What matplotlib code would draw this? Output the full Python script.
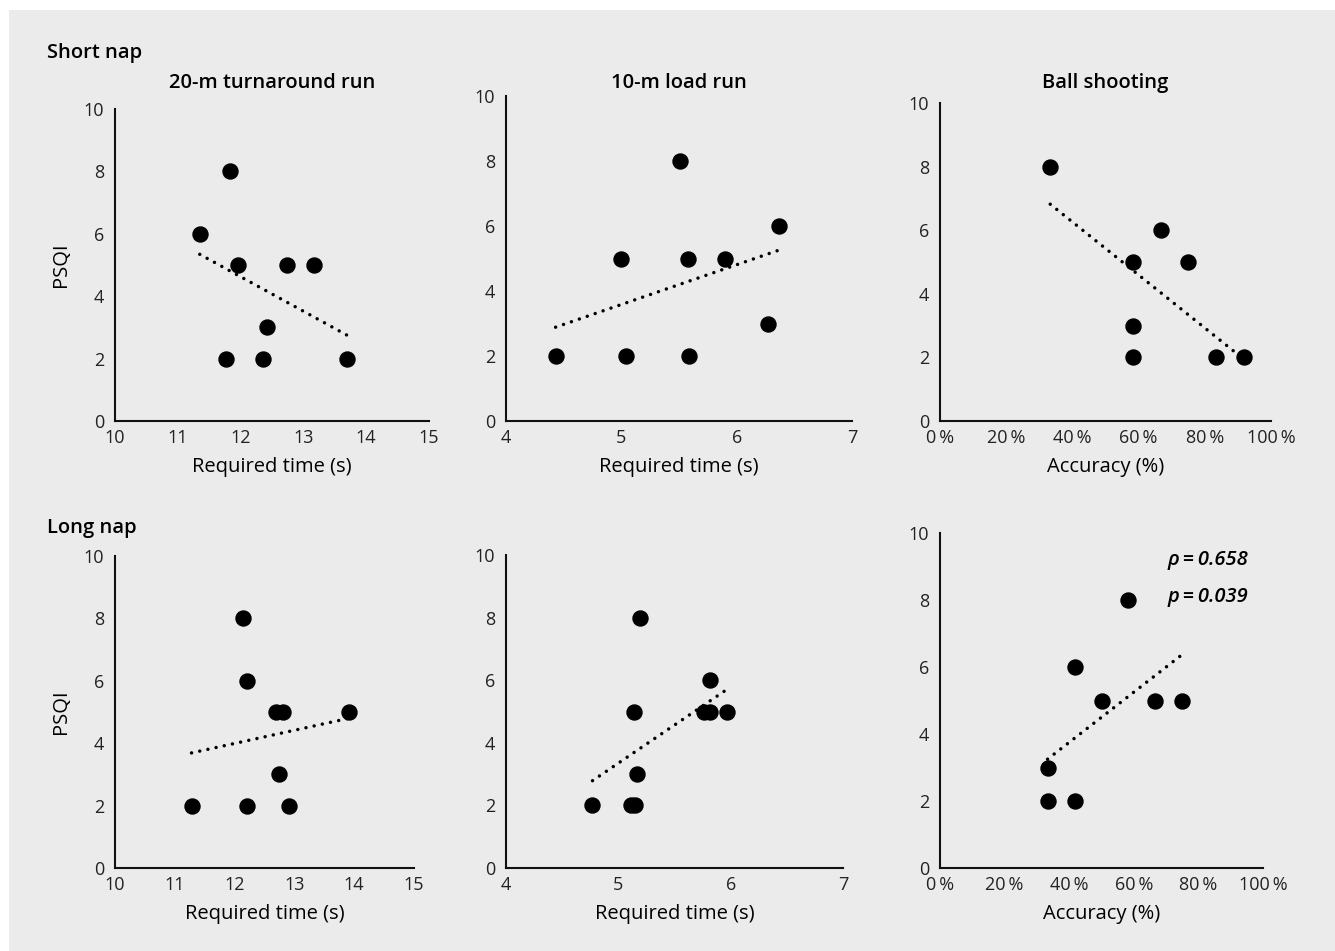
import numpy as np
import matplotlib
matplotlib.use("Agg")
import matplotlib.pyplot as plt
from matplotlib.patches import Rectangle

plt.rcParams['font.family'] = ['Open Sans', 'DejaVu Sans']

# short nap
s_run_x = [11.35, 11.83, 11.96, 12.74, 13.17, 12.42, 11.76, 12.35, 13.69]
s_run_y = [6, 8, 5, 5, 5, 3, 2, 2, 2]
s_load_x = [4.43, 5.00, 5.04, 5.51, 5.58, 5.59, 5.90, 6.27, 6.37]
s_load_y = [2, 5, 2, 8, 5, 2, 5, 3, 6]
s_ball_x = [33.3, 58.3, 58.3, 58.3, 66.7, 75.0, 83.3, 91.7]
s_ball_y = [8, 5, 3, 2, 6, 5, 2, 2]

# long nap
l_run_x = [11.28, 12.14, 12.20, 12.21, 12.69, 12.81, 12.74, 12.91, 13.92]
l_run_y = [2, 8, 6, 2, 5, 5, 3, 2, 5]
l_load_x = [4.77, 5.11, 5.15, 5.14, 5.17, 5.19, 5.82, 5.76, 5.82, 5.97]
l_load_y = [2, 2, 2, 5, 3, 8, 6, 5, 5, 5]
l_ball_x = [33.3, 33.3, 41.7, 41.7, 50.0, 58.3, 66.7, 75.0]
l_ball_y = [3, 2, 2, 6, 5, 8, 5, 5]

titles = ['20-m turnaround run', '10-m load run', 'Ball shooting']

W, H = 1335, 951
fig = plt.figure(figsize=(W / 100, H / 100), dpi=100)
fig.patches.append(Rectangle((9 / W, 0), 1, 1 - 10 / H, transform=fig.transFigure,
                             facecolor='#ebebec', edgecolor='none', zorder=-10))

def box(x0, x1, ytop, ybot):
    return [x0 / W, 1 - ybot / H, (x1 - x0) / W, (ybot - ytop) / H]

panels = [
    (box(115, 429, 109, 421), s_run_x, s_run_y, 'run'),
    (box(506, 852, 96, 421), s_load_x, s_load_y, 'load'),
    (box(940, 1271, 103, 421), s_ball_x, s_ball_y, 'ball'),
    (box(115, 414, 556, 868), l_run_x, l_run_y, 'run'),
    (box(506, 843, 555, 868), l_load_x, l_load_y, 'load'),
    (box(940, 1263, 533, 868), l_ball_x, l_ball_y, 'ball'),
]

for i, (rect, x, y, kind) in enumerate(panels):
    ax = fig.add_axes(rect)
    ax.set_facecolor('none')
    x = np.array(x)
    y = np.array(y)
    ax.plot(x, y, 'o', color='black', markersize=10.8, zorder=3)
    # linear trend line
    k, b = np.polyfit(x, y, 1)
    xs = np.array([x.min(), x.max()])
    ax.plot(xs, k * xs + b, color='black', lw=2.5, linestyle=(0, (0.01, 2.4)),
            dash_capstyle='round', zorder=2)
    ax.set_ylim(0, 10)
    ax.set_yticks([0, 2, 4, 6, 8, 10])
    if kind == 'run':
        ax.set_xlim(10, 15)
        ax.set_xticks(range(10, 16))
        ax.set_xlabel('Required time (s)', fontsize=14.5, labelpad=7)
    elif kind == 'load':
        ax.set_xlim(4, 7)
        ax.set_xticks(range(4, 8))
        ax.set_xlabel('Required time (s)', fontsize=14.5, labelpad=7)
    else:
        ax.set_xlim(0, 100)
        ax.set_xticks(range(0, 101, 20))
        ax.set_xticklabels([f'{v}\u2009%' for v in range(0, 101, 20)])
        ax.set_xlabel('Accuracy (%)', fontsize=14.5, labelpad=7)
    for s in ['top', 'right']:
        ax.spines[s].set_visible(False)
    for s in ['left', 'bottom']:
        ax.spines[s].set_linewidth(1.5)
        ax.spines[s].set_color('#111111')
    ax.tick_params(length=0, labelsize=13, colors='#222222', pad=8)
    ax.tick_params(axis='x', pad=6)
    if i % 3 == 0:
        ax.set_ylabel('PSQI', fontsize=14.5, labelpad=9)
    if i < 3:
        fig.text((rect[0] + rect[2] / 2), 1 - 83 / H, titles[i], ha='center', va='center',
                 fontsize=14.5, fontweight='semibold')
    if i == 5:
        ax.text(70.5, 9.2, '\u03c1\u2009=\u20090.658', fontsize=14.5, style='italic',
                fontweight='semibold', ha='left', va='center')
        ax.text(70.5, 8.1, 'p\u2009=\u20090.039', fontsize=14.5, style='italic',
                fontweight='semibold', ha='left', va='center')

fig.text(47 / W, 1 - 53 / H, 'Short nap', fontsize=14.5, fontweight='semibold', ha='left', va='center')
fig.text(47 / W, 1 - 528 / H, 'Long nap', fontsize=14.5, fontweight='semibold', ha='left', va='center')

fig.savefig('out.png', dpi=100)
